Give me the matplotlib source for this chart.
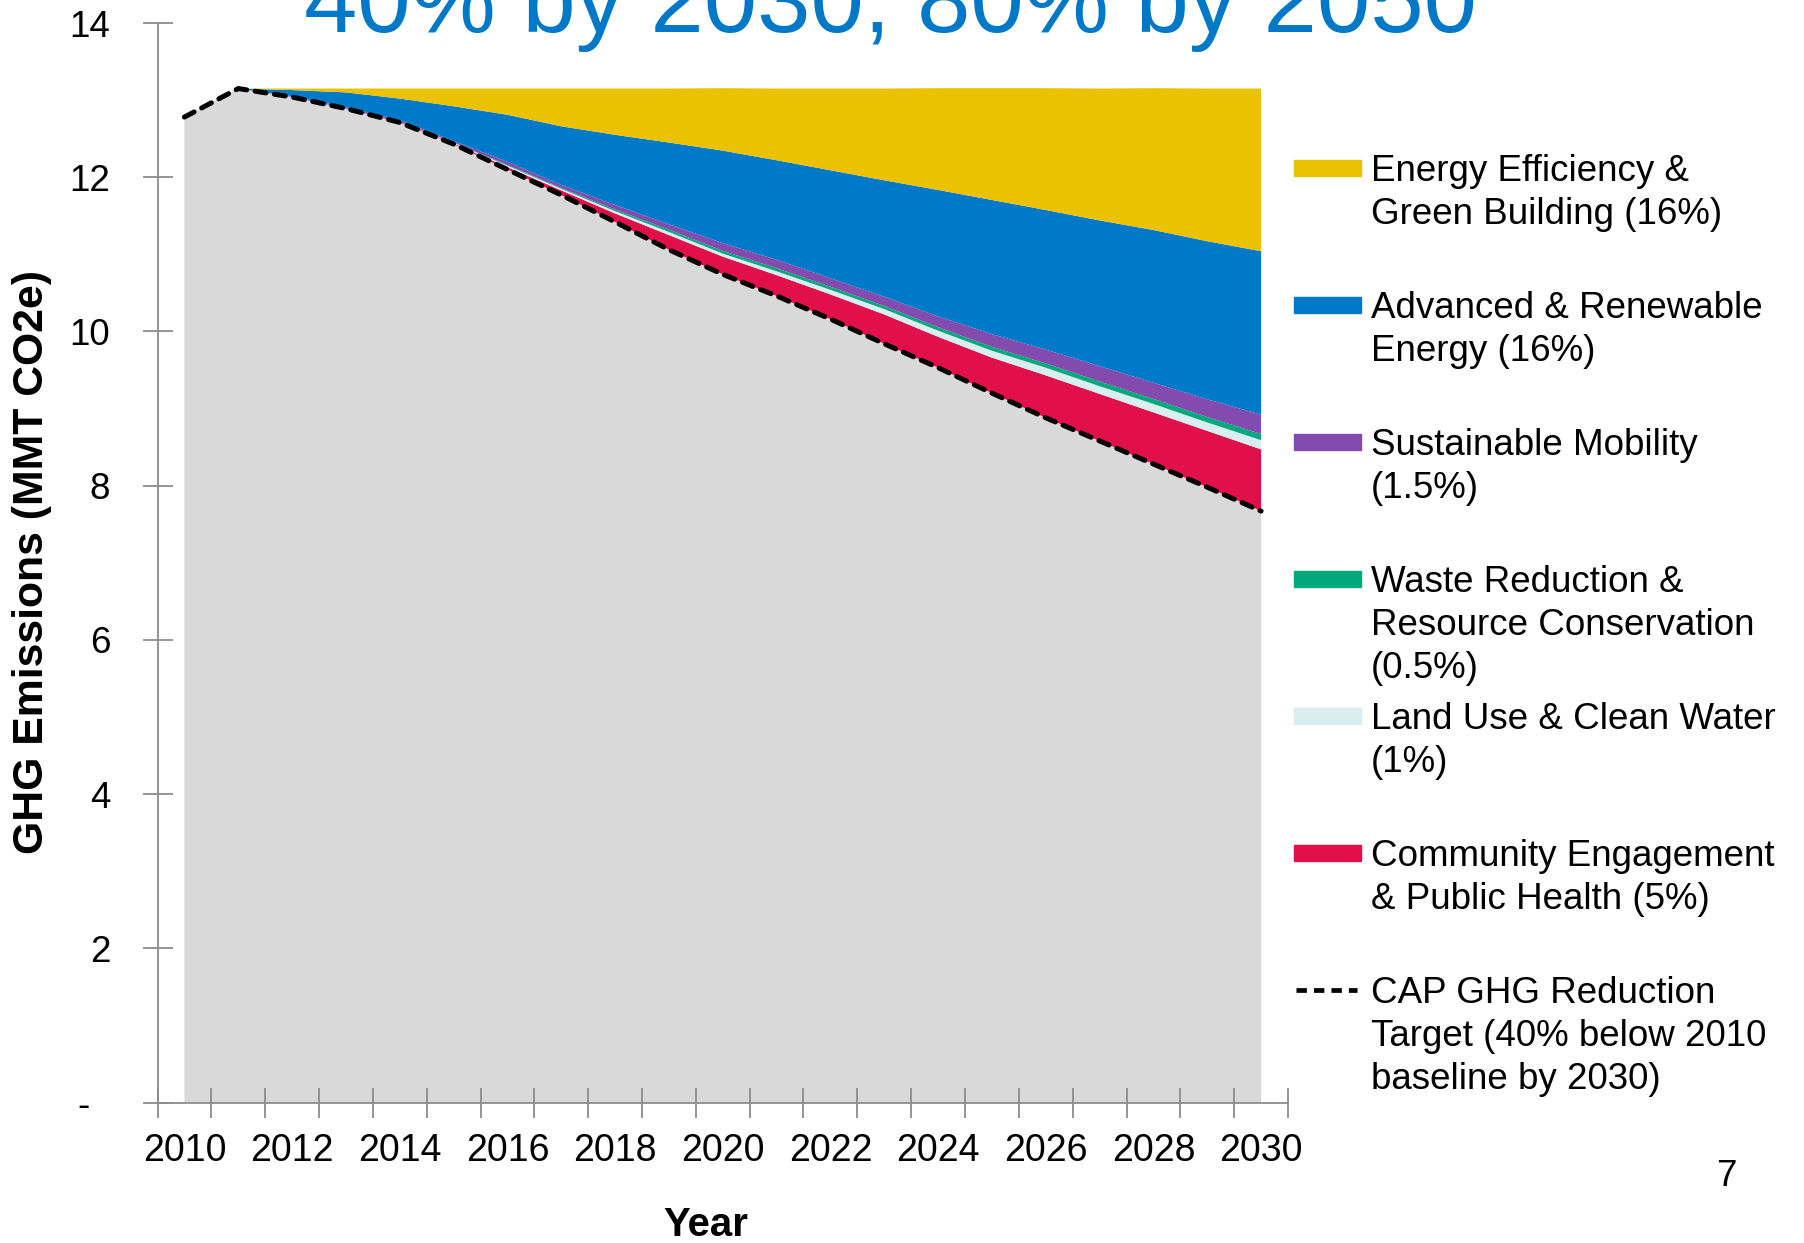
import numpy as np
from matplotlib import pyplot as plt
from matplotlib.patches import Rectangle
from matplotlib.lines import Line2D

plt.rcParams['font.family'] = ['Liberation Sans', 'DejaVu Sans']

# ---- data (MMT CO2e), one value per year 2010..2030 ----
years = list(range(2010, 2031))
year_labels = [str(y) for y in years[::2]]

# grey base = emissions left after the measures
remaining = [12.78, 13.15, 13.04, 12.89, 12.71, 12.43, 12.10, 11.77, 11.42, 11.06, 10.74,
             10.46, 10.16, 9.84, 9.53, 9.20, 8.88, 8.58, 8.28, 7.98, 7.67]
community = [0, 0, 0, 0, 0.01, 0.01, 0.03, 0.06, 0.11, 0.19, 0.23,
             0.27, 0.32, 0.38, 0.40, 0.46, 0.55, 0.61, 0.67, 0.73, 0.80]
land_use = [0, 0, 0, 0, 0, 0.01, 0.02, 0.02, 0.03, 0.04, 0.04,
            0.05, 0.06, 0.07, 0.08, 0.09, 0.10, 0.10, 0.11, 0.11, 0.12]
waste = [0, 0, 0, 0, 0, 0, 0.01, 0.01, 0.02, 0.03, 0.035,
         0.04, 0.04, 0.04, 0.045, 0.05, 0.055, 0.06, 0.065, 0.07, 0.08]
mobility = [0, 0, 0.01, 0.02, 0.02, 0.02, 0.04, 0.04, 0.06, 0.07, 0.10,
            0.11, 0.11, 0.12, 0.14, 0.165, 0.18, 0.20, 0.21, 0.23, 0.25]
renewable = [0, 0, 0.08, 0.19, 0.28, 0.45, 0.61, 0.76, 0.91, 1.06, 1.20,
             1.29, 1.40, 1.51, 1.64, 1.74, 1.81, 1.89, 1.98, 2.05, 2.12]
efficiency = [0, 0, 0.02, 0.05, 0.13, 0.23, 0.34, 0.49, 0.60, 0.70, 0.81,
              0.93, 1.06, 1.19, 1.32, 1.45, 1.58, 1.71, 1.84, 1.98, 2.11]
target = [12.78, 13.15, 13.04, 12.89, 12.71, 12.43, 12.10, 11.77, 11.42, 11.06, 10.74,
          10.46, 10.16, 9.84, 9.53, 9.20, 8.88, 8.58, 8.28, 7.98, 7.67]

legend_labels = [["Energy Efficiency &", "Green Building (16%)"],
                 ["Advanced & Renewable", "Energy (16%)"],
                 ["Sustainable Mobility", "(1.5%)"],
                 ["Waste Reduction &", "Resource Conservation", "(0.5%)"],
                 ["Land Use & Clean Water", "(1%)"],
                 ["Community Engagement", "& Public Health (5%)"],
                 ["CAP GHG Reduction", "Target (40% below 2010", "baseline by 2030)"]]

c_grey = '#D9D9D9'
c_red = '#E1104B'
c_cyan = '#DAEEF0'
c_green = '#00A97B'
c_purple = '#834BAE'
c_blue = '#0079C8'
c_yellow = '#EBC200'
axis_grey = '#8C8C8C'

W, H = 1804, 1243
fig = plt.figure(figsize=(W / 100, H / 100), dpi=100)
ax = fig.add_axes([157.5 / W, 1 - 1102.5 / H, 1130.5 / W, 1079.5 / H])

x = np.arange(len(years))
ax.stackplot(x, remaining, community, land_use, waste, mobility, renewable, efficiency,
             colors=[c_grey, c_red, c_cyan, c_green, c_purple, c_blue, c_yellow],
             linewidth=0)
ax.plot(x, target, color='black', lw=3.6, dashes=(2.2, 1.7), dash_capstyle='round')

ax.set_xlim(-0.5, len(years) - 0.5)
ax.set_ylim(0, 14)

for s in ['top', 'right']:
    ax.spines[s].set_visible(False)
for s in ['left', 'bottom']:
    ax.spines[s].set_color(axis_grey)
    ax.spines[s].set_linewidth(1.3)

# y axis
yt = np.arange(0, 15, 2)
ax.set_yticks(yt)
ax.set_yticklabels(['-  '] + [str(v) for v in yt[1:]])
ax.tick_params(axis='y', direction='inout', length=22, width=1.3, color=axis_grey,
               labelsize=26.5, pad=23)

# x axis: tick marks between categories, labels on every other year
ax.set_xticks(np.arange(-0.5, len(years), 1.0))
ax.set_xticklabels([])
ax.set_xticks(x[::2], minor=True)
ax.set_xticklabels(year_labels, minor=True)
ax.tick_params(axis='x', which='major', direction='inout', length=22, width=1.3,
               color=axis_grey)
ax.tick_params(axis='x', which='minor', length=0, labelsize=27, pad=22)

fig.text(0.4935, 1 - 32 / H, '40% by 2030, 80% by 2050', fontsize=69,
         color='#0078C8', ha='center', va='baseline')
fig.text(32 / W, 0.548, 'GHG Emissions (MMT CO2e)', fontsize=30.8, fontweight='bold',
         rotation=90, ha='center', va='center')
fig.text(706 / W, 1 - 1236 / H, 'Year', fontsize=29, fontweight='bold',
         ha='center', va='baseline')
fig.text(1726 / W, 1 - 1176 / H, '7', fontsize=26.5, ha='center', va='center')

# legend, drawn by hand (fixed spacing per entry like the original)
patch_colors = [c_yellow, c_blue, c_purple, c_green, c_cyan, c_red]
for i, lines in enumerate(legend_labels):
    cy = 168 + i * 137
    if i < len(patch_colors):
        fig.patches.append(Rectangle((1294 / W, 1 - (cy + 8) / H), 67 / W, 16 / H,
                                     transform=fig.transFigure, color=patch_colors[i]))
    else:
        fig.lines.append(Line2D([1296 / W, 1357 / W], [1 - cy / H, 1 - cy / H],
                                transform=fig.transFigure, color='black', lw=3.4,
                                dashes=(2.2, 1.5)))
    for k, line in enumerate(lines):
        fig.text(1371 / W, 1 - (cy + 13 + k * 43) / H, line, fontsize=26.5,
                 ha='left', va='baseline')

fig.savefig('out.png', dpi=100)
